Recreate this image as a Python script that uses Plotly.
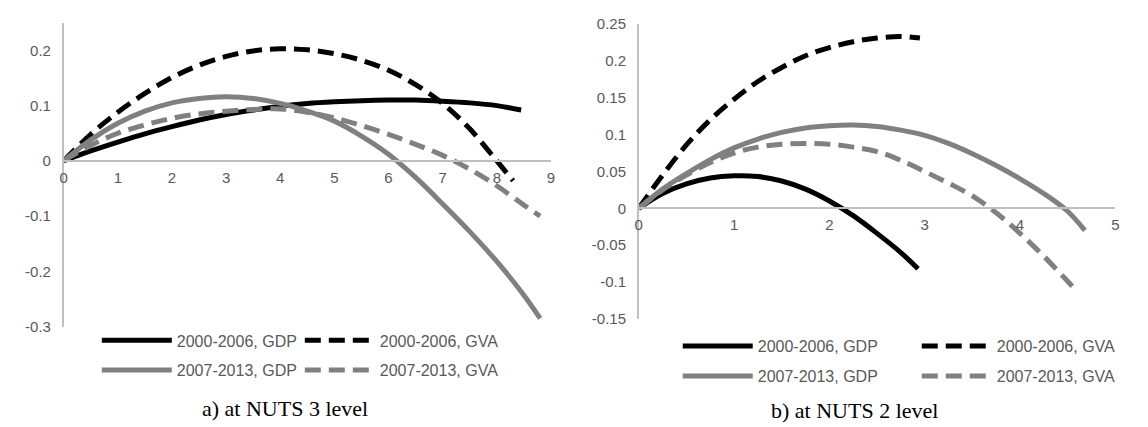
import plotly.graph_objects as go

# ---------------- data ----------------
# a) NUTS 3 level
a_x_gdp00 = [0, 0.5, 1, 1.5, 2, 2.5, 3, 3.5, 4, 4.5, 5, 5.5, 6, 6.5, 7, 7.5, 8, 8.45]
a_y_gdp00 = [0, 0.018, 0.034, 0.049, 0.062, 0.074, 0.084, 0.092, 0.099, 0.104, 0.107, 0.109, 0.110, 0.110, 0.108, 0.105, 0.100, 0.092]

a_x_gva00 = [0, 0.5, 1, 1.5, 2, 2.5, 3, 3.5, 4, 4.5, 5, 5.5, 6, 6.5, 7, 7.5, 8, 8.3]
a_y_gva00 = [0, 0.048, 0.088, 0.122, 0.151, 0.173, 0.189, 0.199, 0.203, 0.201, 0.194, 0.182, 0.164, 0.138, 0.104, 0.058, 0.0, -0.036]

a_x_gdp07 = [0, 0.5, 1, 1.5, 2, 2.5, 3, 3.5, 4, 4.5, 5, 5.5, 6, 6.5, 7, 7.5, 8, 8.5, 8.8]
a_y_gdp07 = [0, 0.038, 0.068, 0.090, 0.105, 0.113, 0.116, 0.113, 0.104, 0.090, 0.072, 0.045, 0.012, -0.030, -0.078, -0.128, -0.182, -0.243, -0.285]

a_x_gva07 = [0, 0.5, 1, 1.5, 2, 2.5, 3, 3.5, 4, 4.5, 5, 5.5, 6, 6.5, 7, 7.5, 8, 8.5, 8.8]
a_y_gva07 = [0, 0.028, 0.050, 0.065, 0.077, 0.085, 0.090, 0.093, 0.094, 0.088, 0.078, 0.064, 0.048, 0.030, 0.010, -0.015, -0.045, -0.080, -0.100]

# b) NUTS 2 level
b_x_gdp00 = [0, 0.25, 0.5, 0.75, 1, 1.25, 1.5, 1.75, 2, 2.25, 2.5, 2.75, 2.93]
b_y_gdp00 = [0, 0.020, 0.033, 0.041, 0.044, 0.043, 0.037, 0.026, 0.010, -0.010, -0.034, -0.060, -0.082]

b_x_gva00 = [0, 0.25, 0.5, 0.75, 1, 1.25, 1.5, 1.75, 2, 2.25, 2.5, 2.75, 2.95]
b_y_gva00 = [0, 0.045, 0.086, 0.120, 0.148, 0.172, 0.191, 0.207, 0.218, 0.226, 0.231, 0.233, 0.231]

b_x_gdp07 = [0, 0.25, 0.5, 0.75, 1, 1.25, 1.5, 1.75, 2, 2.25, 2.5, 2.75, 3, 3.25, 3.5, 3.75, 4, 4.25, 4.5, 4.68]
b_y_gdp07 = [0, 0.026, 0.047, 0.066, 0.082, 0.094, 0.103, 0.109, 0.112, 0.113, 0.111, 0.106, 0.099, 0.088, 0.074, 0.058, 0.040, 0.020, -0.004, -0.030]

b_x_gva07 = [0, 0.25, 0.5, 0.75, 1, 1.25, 1.5, 1.75, 2, 2.25, 2.5, 2.75, 3, 3.25, 3.5, 3.75, 4, 4.25, 4.5, 4.58]
b_y_gva07 = [0, 0.025, 0.045, 0.062, 0.075, 0.083, 0.087, 0.088, 0.087, 0.083, 0.077, 0.065, 0.050, 0.034, 0.017, -0.006, -0.034, -0.065, -0.099, -0.110]

series_names = ["2000-2006, GDP", "2000-2006, GVA", "2007-2013, GDP", "2007-2013, GVA"]

a_xticks = [0, 1, 2, 3, 4, 5, 6, 7, 8, 9]
a_yticks = [-0.3, -0.2, -0.1, 0, 0.1, 0.2]
a_ytext = ["-0.3", "-0.2", "-0.1", "0", "0.1", "0.2"]
b_xticks = [0, 1, 2, 3, 4, 5]
b_yticks = [-0.15, -0.1, -0.05, 0, 0.05, 0.1, 0.15, 0.2, 0.25]
b_ytext = ["-0.15", "-0.1", "-0.05", "0", "0.05", "0.1", "0.15", "0.2", "0.25"]

titles = ["a) at NUTS 3 level", "b) at NUTS 2 level"]

# ---------------- styling ----------------
W, H = 1148, 427
BLACK = "#000000"
GRAY = "#808080"
AXIS = "#BFBFBF"
TXT = "#595959"
LW = 5
DASH = "16px,8px"


def px_x(p):
    return p / W


def px_y(p):
    return 1 - p / H


# plot areas (pixels)
a_left, a_right, a_top, a_bot = 53, 553, 7, 323
b_left, b_right, b_top, b_bot = 643, 1132, 8, 315
a_yr = [-0.3, 0.25]
b_yr = [-0.15, 0.25]
EPS = 0.0004

a_dom_y = [px_y(a_bot), px_y(a_top)]
b_dom_y = [px_y(b_bot), px_y(b_top)]
a_xpos = a_dom_y[0] + (0 - a_yr[0]) / (a_yr[1] - a_yr[0]) * (a_dom_y[1] - a_dom_y[0])
b_xpos = b_dom_y[0] + (0 - b_yr[0]) / (b_yr[1] - b_yr[0]) * (b_dom_y[1] - b_dom_y[0])

fig = go.Figure()

styles = [(BLACK, "solid"), (BLACK, DASH), (GRAY, "solid"), (GRAY, DASH)]
a_data = [(a_x_gdp00, a_y_gdp00), (a_x_gva00, a_y_gva00), (a_x_gdp07, a_y_gdp07), (a_x_gva07, a_y_gva07)]
b_data = [(b_x_gdp00, b_y_gdp00), (b_x_gva00, b_y_gva00), (b_x_gdp07, b_y_gdp07), (b_x_gva07, b_y_gva07)]
a_legends = ["legend", "legend", "legend2", "legend2"]
b_legends = ["legend3", "legend3", "legend4", "legend4"]

for i, (xs, ys) in enumerate(a_data):
    c, d = styles[i]
    fig.add_trace(go.Scatter(x=xs, y=ys, mode="lines", name=series_names[i],
                             line=dict(color=c, width=LW, dash=d, shape="spline", smoothing=1.0),
                             xaxis="x", yaxis="y", legend=a_legends[i], hoverinfo="skip"))
for i, (xs, ys) in enumerate(b_data):
    c, d = styles[i]
    fig.add_trace(go.Scatter(x=xs, y=ys, mode="lines", name=series_names[i],
                             line=dict(color=c, width=LW, dash=d, shape="spline", smoothing=1.0),
                             xaxis="x2", yaxis="y2", legend=b_legends[i], hoverinfo="skip"))

tickfont = dict(family="Liberation Sans, Arial, sans-serif", size=15, color=TXT)
common_x = dict(showgrid=False, zeroline=False, showline=True, linecolor=AXIS, linewidth=1.5,
                ticks="", tickfont=tickfont, fixedrange=True, ticklabelstandoff=3,
                ticklabeloverflow="allow")
common_y = dict(showgrid=False, zeroline=False, showline=True, linecolor=AXIS, linewidth=1.5,
                ticks="", tickfont=tickfont, fixedrange=True, ticklabelstandoff=8,
                ticklabeloverflow="allow")

legfont = dict(family="Liberation Sans, Arial, sans-serif", size=16, color=TXT)


def leg(x, y, ew):
    return dict(orientation="h", x=x, y=y, xanchor="left", yanchor="middle",
                font=legfont, itemwidth=70, entrywidth=ew, entrywidthmode="pixels",
                bgcolor="rgba(0,0,0,0)", borderwidth=0, traceorder="normal",
                tracegroupgap=0, itemclick=False, itemdoubleclick=False)


fig.update_layout(
    width=W, height=H,
    margin=dict(l=0, r=0, t=0, b=0),
    paper_bgcolor="white", plot_bgcolor="white",
    xaxis=dict(common_x, domain=[px_x(a_left), px_x(a_right)], range=[0, 9 + 0.001],
               anchor="free", position=a_xpos, tickvals=a_xticks),
    yaxis=dict(common_y, domain=a_dom_y, range=[a_yr[0] - EPS, a_yr[1]], anchor="x",
               tickvals=a_yticks, ticktext=a_ytext),
    xaxis2=dict(common_x, domain=[px_x(b_left), px_x(b_right)], range=[0, 5 + 0.001],
                anchor="free", position=b_xpos, tickvals=b_xticks),
    yaxis2=dict(common_y, domain=b_dom_y, range=[b_yr[0] - EPS, b_yr[1] + EPS], anchor="x2",
                tickvals=b_yticks, ticktext=b_ytext),
    legend=leg(px_x(87), px_y(337), 118),
    legend2=leg(px_x(87), px_y(368), 118),
    legend3=leg(px_x(683), px_y(343), 154),
    legend4=leg(px_x(683), px_y(374), 154),
    showlegend=True,
    annotations=[
        dict(text=titles[0], x=px_x(280), y=px_y(408), xref="paper", yref="paper",
             showarrow=False, xanchor="center", yanchor="middle",
             font=dict(family="Liberation Serif, Times New Roman, serif", size=22, color="#000000")),
        dict(text=titles[1], x=px_x(864), y=px_y(410), xref="paper", yref="paper",
             showarrow=False, xanchor="center", yanchor="middle",
             font=dict(family="Liberation Serif, Times New Roman, serif", size=22, color="#000000")),
    ],
)

fig.write_html("out.html", config={"displayModeBar": False})
